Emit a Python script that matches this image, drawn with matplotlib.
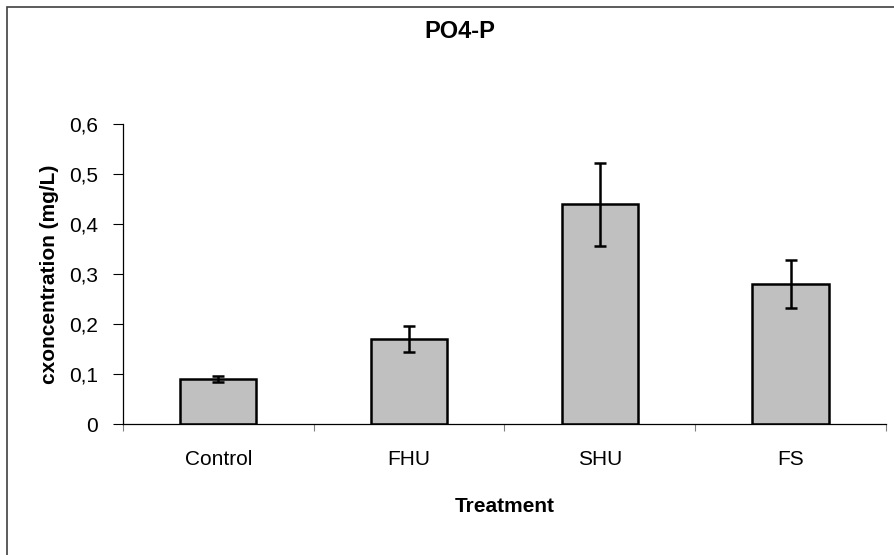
import matplotlib.pyplot as plt
from matplotlib.patches import Rectangle
from matplotlib.ticker import FuncFormatter

plt.rcParams["font.family"] = ["Liberation Sans", "DejaVu Sans"]

# Data
treatments = ["Control", "FHU", "SHU", "FS"]
means = [0.09, 0.17, 0.439, 0.281]
errors = [0.006, 0.026, 0.083, 0.048]

fig = plt.figure(figsize=(8.95, 5.55), dpi=100)
ax = fig.add_axes([0.1374, 0.236, 0.8525, 0.5406])

# Outer chart border (Excel chart area), cut off at right and bottom
fig.patches.append(Rectangle((7 / 895, -0.1), 1.2, 1 - 7 / 555 + 0.1,
                             transform=fig.transFigure, fill=False,
                             edgecolor="#404040", linewidth=1.2))

x = range(len(treatments))
ax.bar(x, means, width=0.4, color="#C0C0C0", edgecolor="black", linewidth=1.8,
       yerr=errors, error_kw=dict(ecolor="black", elinewidth=1.8, capsize=4.5, capthick=1.8),
       zorder=2)

ax.set_xlim(-0.5, 3.5)
ax.set_ylim(0, 0.6)
ax.set_yticks([0, 0.1, 0.2, 0.3, 0.4, 0.5, 0.6])
ax.yaxis.set_major_formatter(FuncFormatter(lambda v, p: "0" if v == 0 else f"{v:.1f}".replace(".", ",")))

# categories between tick marks, like Excel
ax.set_xticks([-0.5, 0.5, 1.5, 2.5, 3.5])
ax.set_xticklabels([])
ax.set_xticks(list(x), minor=True)
ax.set_xticklabels(treatments, minor=True)
ax.tick_params(axis="x", which="minor", length=0, pad=19, labelsize=15)
ax.tick_params(axis="x", which="major", length=5, width=0.8, color="#808080")
ax.tick_params(axis="y", length=7, width=0.8, labelsize=15, pad=11)

ax.spines["top"].set_visible(False)
ax.spines["right"].set_visible(False)
ax.spines["left"].set_linewidth(0.9)
ax.spines["bottom"].set_linewidth(0.9)

ax.set_xlabel("Treatment", fontsize=15, fontweight="bold", labelpad=20)
ax.set_ylabel("cxoncentration (mg/L)", fontsize=15, fontweight="bold", labelpad=7)
fig.text(460 / 895, 1 - 31 / 555, "PO4-P", ha="center", va="center",
         fontsize=17, fontweight="bold")

plt.savefig("out.png", dpi=100)
